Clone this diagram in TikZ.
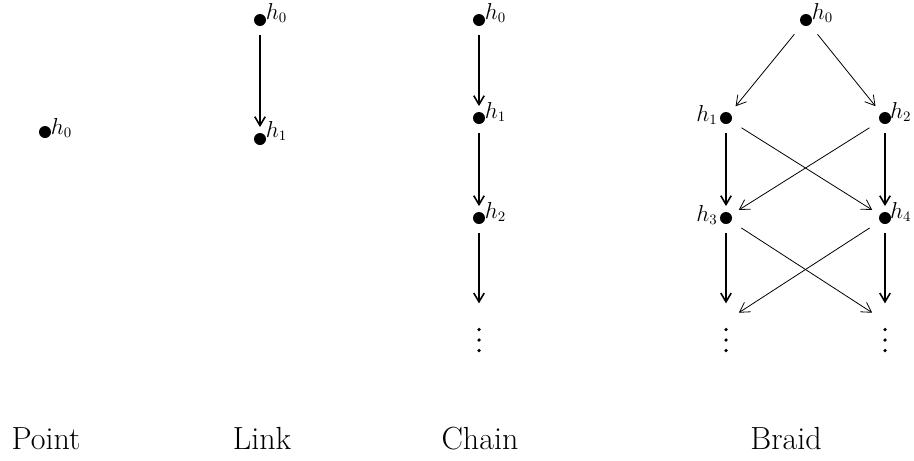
\documentclass[tikz,border=0pt]{standalone}
\usetikzlibrary{arrows.meta}
\begin{document}
\begin{tikzpicture}[x=0.625pt,y=-0.625pt,
  dot/.style={circle,fill=black,inner sep=0pt,minimum size=7.5pt},
  hlab/.style={inner sep=0pt,font=\fontsize{13.5}{16}\selectfont},
  vedge/.style={line width=1pt,-{Straight Barb[length=5.5pt,width=6.5pt]},shorten <=5.5pt,shorten >=3.5pt},
  dedge/.style={line width=0.5pt,-{Straight Barb[length=6pt,width=7pt]},shorten <=7.5pt,shorten >=5.5pt},
  captext/.style={font=\fontsize{20}{24}\selectfont,anchor=base,inner sep=0pt},
  smalldot/.style={radius=1.1pt}
]
\useasboundingbox (0,0) rectangle (914,460);
% Point
\node[dot] (p0) at (45,132) {};
\node[hlab,anchor=base west] (p0l) at ([xshift=3.5pt,yshift=-1.5pt]p0.center) {$h_0$};
% Link
\node[dot] (l0) at (260,20) {};
\node[dot] (l1) at (260,139) {};
\node[hlab,anchor=base west] (l0l) at ([xshift=3.5pt,yshift=0.5pt]l0.center) {$h_0$};
\node[hlab,anchor=base west] (l1l) at ([xshift=3.5pt,yshift=1pt]l1.center) {$h_1$};
\draw[vedge] (l0) -- (l1);
% Chain
\node[dot] (c0) at (479,20) {};
\node[dot] (c1) at (479,118) {};
\node[dot] (c2) at (479,218) {};
\node[hlab,anchor=base west] (c0l) at ([xshift=3.5pt,yshift=0.5pt]c0.center) {$h_0$};
\node[hlab,anchor=base west] (c1l) at ([xshift=3.5pt,yshift=0pt]c1.center) {$h_1$};
\node[hlab,anchor=base west] (c2l) at ([xshift=3.5pt,yshift=0pt]c2.center) {$h_2$};
\coordinate (c3) at (479,321);
\fill[smalldot] (479,329.5) circle[] (479,340) circle[] (479,350.5) circle[];
\draw[vedge] (c0) -- (c1);
\draw[vedge] (c1) -- (c2);
\draw[vedge,shorten >=11pt] (c2) -- (c3);
% Braid
\node[dot] (b0) at (806,20) {};
\node[dot] (b1) at (726,118) {};
\node[dot] (b2) at (885,118) {};
\node[dot] (b3) at (726,218) {};
\node[dot] (b4) at (885,218) {};
\node[hlab,anchor=base west] (b0l) at ([xshift=3.5pt,yshift=0.5pt]b0.center) {$h_0$};
\node[hlab,anchor=base east] (b1l) at ([xshift=-5pt,yshift=-2pt]b1.center) {$h_1$};
\node[hlab,anchor=base west] (b2l) at ([xshift=3pt,yshift=0pt]b2.center) {$h_2$};
\node[hlab,anchor=base east] (b3l) at ([xshift=-5pt,yshift=-2pt]b3.center) {$h_3$};
\node[hlab,anchor=base west] (b4l) at ([xshift=3pt,yshift=0pt]b4.center) {$h_4$};
\coordinate (b5) at (726,321);
\coordinate (b6) at (885,321);
\fill[smalldot] (726,329.5) circle[] (726,340) circle[] (726,350.5) circle[];
\fill[smalldot] (885,329.5) circle[] (885,340) circle[] (885,350.5) circle[];
\draw[dedge] (b0) -- (b1);
\draw[dedge] (b0) -- (b2);
\draw[vedge] (b1) -- (b3);
\draw[vedge] (b2) -- (b4);
\draw[dedge] (b1) -- (b4);
\draw[dedge] (b2) -- (b3);
\draw[vedge,shorten >=11pt] (b3) -- (b5);
\draw[vedge,shorten >=11pt] (b4) -- (b6);
\draw[dedge,shorten >=9.5pt] (b3) -- (b6);
\draw[dedge,shorten >=9.5pt] (b4) -- (b5);
% captions
\node[captext] (tp) at (46,449) {Point};
\node[captext] (tl) at (262,449) {Link};
\node[captext] (tc) at (480,449) {Chain};
\node[captext] (tb) at (786,449) {Braid};
\end{tikzpicture}
\end{document}
